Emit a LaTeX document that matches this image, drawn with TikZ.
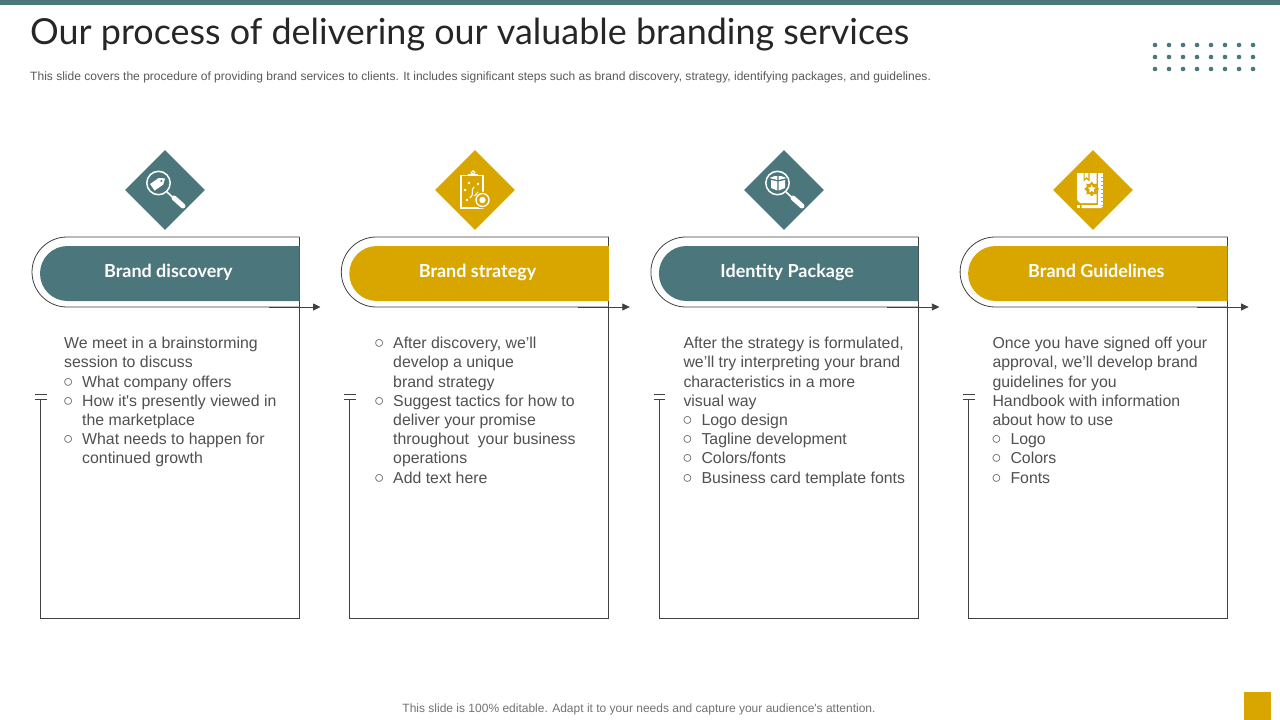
\documentclass[tikz,border=0pt]{standalone}
\usepackage{fontspec}
\setmainfont[Ligatures=TeXOff]{Liberation Sans}
\newfontfamily\headfont{Lato}
\newcommand{\bl}{\makebox[18pt][l]{\fontsize{17}{12}\selectfont\hspace*{-1.2pt}○}}
\usetikzlibrary{arrows.meta,shapes.geometric}
\definecolor{teal}{HTML}{4B767B}
\definecolor{gold}{HTML}{D9A600}
\definecolor{body}{HTML}{505050}
\definecolor{small}{HTML}{595959}
\definecolor{edge}{HTML}{404040}
\newcommand{\ind}{\hspace*{18pt}}
\tikzset{
  x=1pt,y=-1pt,
  rim/.style={draw=edge,line width=0.8pt},
  diam/.style={diamond,minimum width=80pt,minimum height=80pt,inner sep=0pt,fill=#1},
  bodytext/.style={anchor=north west,inner sep=0pt,align=left,text=body,font=\fontsize{15.85}{19.2}\selectfont},
  headtext/.style={anchor=base,text=white,inner sep=0pt,font=\headfont\bfseries\fontsize{18}{20}\selectfont},
  icon/.style={draw=white,line width=1.3pt,fill=none},
}
\newcommand{\stage}[4]{% x of left edge, name, colour, label
  \begin{scope}[shift={(#1,0)}]
    \draw[rim] (259,237) -- (26.5,237) arc[start angle=270,end angle=90,radius=35] -- (259,307);
    \draw[rim] (259,237) -- (259,618) -- (0,618) -- (0,399);
    \draw[rim] (-5.5,394.3) -- (6,394.3);
    \draw[rim] (-5.5,399.3) -- (6,399.3);
    \fill[#3] (259,246) -- (27,246) arc[start angle=270,end angle=90,radius=27.5] -- (259,301) -- cycle;
    \node[headtext] (#2head) at (127.8,277) {#4};
    \coordinate (#2from) at (228,307);
    \coordinate (#2to) at (280,307);
    \draw[edge,line width=0.8pt,-{Triangle[length=7.5pt,width=7pt]}] (#2from) -- (#2to);
  \end{scope}}
\newcommand{\lens}[2]{% centre of diamond
  \draw[icon,line width=1.5pt] (#1-6.5,#2-7) circle[radius=11.7];
  \draw[white,line width=1.6pt] (#1+2,#2+2) -- (#1+8,#2+7.5);
  \draw[white,line width=5pt,line cap=round] (#1+9,#2+8) -- (#1+18,#2+16);}
\begin{document}
\begin{tikzpicture}
\useasboundingbox (0,0) rectangle (1280,720);
\fill[white] (0,0) rectangle (1280,720);
\fill[teal] (0,0) rectangle (1280,5);
\node[anchor=base west,inner sep=0pt,text=black!85,font=\headfont\fontsize{35.9}{40}\selectfont] (title) at (30,44) {Our process of delivering our valuable branding services};
\node[anchor=base west,inner sep=0pt,text=small,font=\fontsize{12.04}{14}\selectfont] (subtitle) at (30,80.5) {This slide covers the procedure of providing brand services to clients. It includes significant steps such as brand discovery, strategy, identifying packages, and guidelines.};
\foreach \i in {0,...,7} \foreach \j in {0,1,2} \fill[teal] (1155+14*\i,45+12*\j) circle[radius=2.3];

\stage{40.5}{a}{teal}{Brand discovery}
\stage{349.8}{b}{gold}{Brand strategy}
\stage{659.4}{c}{teal}{Identity Package}
\stage{968.6}{d}{gold}{Brand Guidelines}

\node[diam=teal] (da) at (165,190) {};
\node[diam=gold] (db) at (475,190) {};
\node[diam=teal] (dc) at (784,190) {};
\node[diam=gold] (dd) at (1093,190) {};

% icon 1: magnifier with tag
\lens{165}{190}
\begin{scope}[shift={(158.5,183)},rotate=35]
  \fill[white] (-7.5,-4) -- (3,-4) -- (8,0) -- (3,4) -- (-7.5,4) -- cycle;
  \fill[teal] (3.5,0) circle[radius=1.1];
\end{scope}
% icon 2: clipboard
\draw[icon] (461,175.5) rectangle (483,208);
\draw[white,line width=2pt] (468,175) -- (478,175);
\draw[icon,line width=1pt] (473,172.5) circle[radius=1.8];
\fill[gold] (482.5,200) circle[radius=8.5];
\draw[icon] (482.5,200) circle[radius=6.5];
\fill[white] (482.5,200) circle[radius=3.2];
\foreach \p in {(465,190),(467,200),(478,184),(469,183)} \fill[white] \p circle[radius=1.4];
\draw[white,line width=1.1pt] (470,198) .. controls (475,194) and (470,190) .. (474,187);
\draw[white,line width=1.1pt] (474.5,196) -- (478,192);
% icon 3: magnifier with box
\lens{784}{190}
\begin{scope}[shift={(778,183)}]
  \fill[white] (-7,-3) -- (-0.6,-1.5) -- (-0.6,7.5) -- (-7,5) -- cycle;
  \fill[white] (7,-3) -- (0.6,-1.5) -- (0.6,7.5) -- (7,5) -- cycle;
  \fill[white] (-8.5,-5) -- (-3,-7) -- (-0.6,-7) -- (-0.6,-3) -- cycle;
  \fill[white] (8.5,-5) -- (3,-7) -- (0.6,-7) -- (0.6,-3) -- cycle;
\end{scope}
% icon 4: book and ruler
\fill[white] (1077,173) -- (1096.5,173) -- (1096.5,203) -- (1080,203) -- (1077,200) -- cycle;
\fill[white] (1098,173) rectangle (1103,205);
\foreach \t in {177,181,185,189,193,197,201} \draw[gold,line width=0.6pt] (1100.5,\t) -- (1103,\t);
\fill[white] (1077,205) rectangle (1080,208);
\fill[white] (1081.5,205) -- (1101,205) -- (1103,206.5) -- (1101,208) -- (1081.5,208) -- cycle;
\fill[gold] (1083.5,173) -- (1083.5,181.5) -- (1086.5,179) -- (1089.5,181.5) -- (1089.5,173) -- cycle;
\fill[white] (1084.7,173) -- (1084.7,178.5) -- (1086.5,177) -- (1088.3,178.5) -- (1088.3,173) -- cycle;
\node[star,star points=8,star point ratio=1.4,minimum size=15pt,inner sep=0pt,fill=gold] (rosette) at (1091.7,189) {};
\node[star,star points=5,star point ratio=2.2,minimum size=8.5pt,inner sep=0pt,fill=white] (rosettemid) at (1091.7,189) {};

\node[bodytext] (ta) at (64,337) {We meet in a brainstorming\\session to discuss\\\bl What company offers\\\bl How it's presently viewed in\\\ind the marketplace\\\bl What needs to happen for\\\ind continued growth};
\node[bodytext] (tb) at (375,337) {\bl After discovery, we’ll\\\ind develop a unique\\\ind brand strategy\\\bl Suggest tactics for how to\\\ind deliver your promise\\\ind throughout\ \ your business\\\ind operations\\\bl Add text here};
\node[bodytext] (tc) at (683.3,337) {After the strategy is formulated,\\we’ll try interpreting your brand\\characteristics in a more\\visual way\\\bl Logo design\\\bl Tagline development\\\bl Colors/fonts\\\bl Business card template fonts};
\node[bodytext] (td) at (992.3,337) {Once you have signed off your\\approval, we’ll develop brand\\guidelines for you\\Handbook with information\\about how to use\\\bl Logo\\\bl Colors\\\bl Fonts};

\node[anchor=base,inner sep=0pt,text=small!85,font=\fontsize{12}{14}\selectfont] (foot) at (639,712) {This slide is 100\% editable. Adapt it to your needs and capture your audience's attention.};
\fill[gold] (1244,692) rectangle (1271,720);
\end{tikzpicture}
\end{document}
